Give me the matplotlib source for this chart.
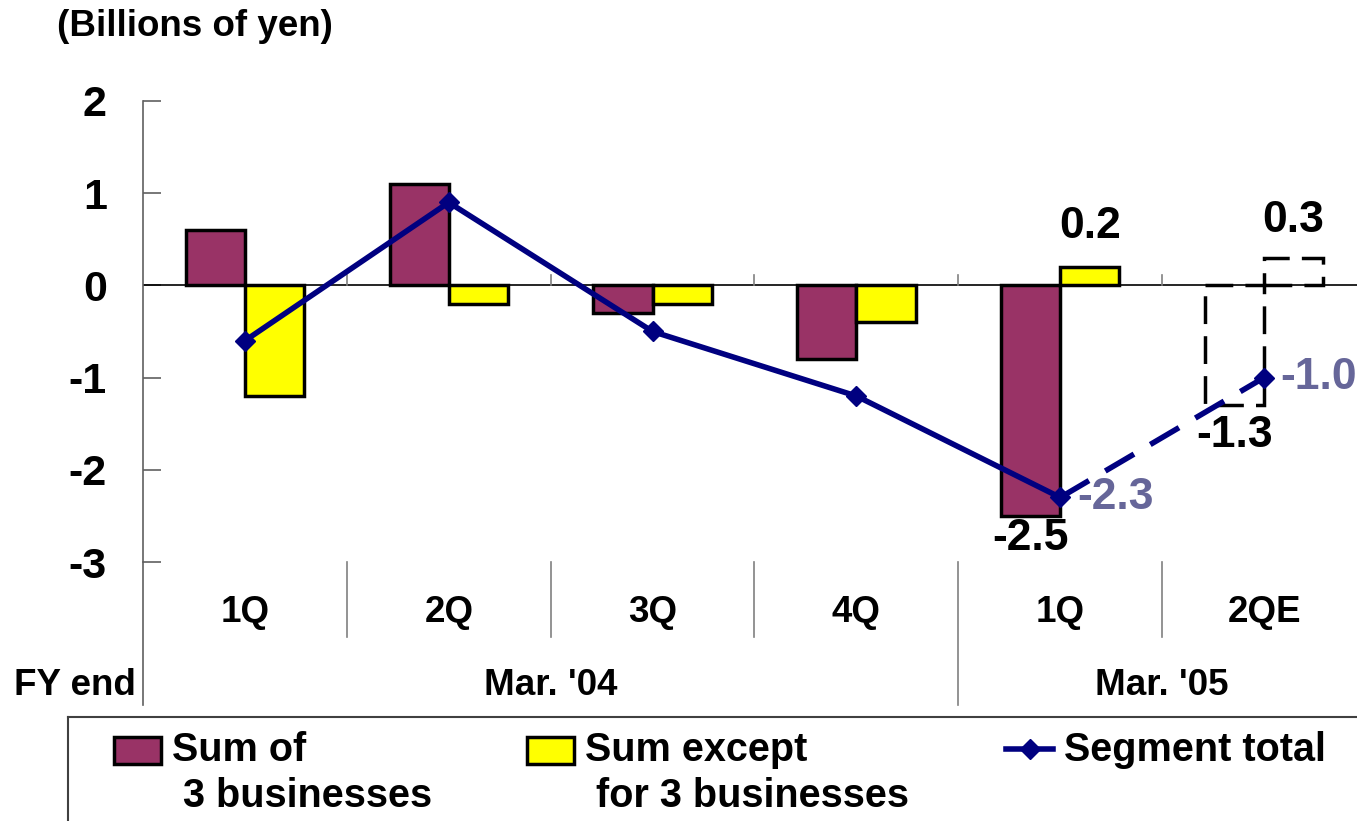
import matplotlib
matplotlib.use("Agg")
import matplotlib.pyplot as plt
from matplotlib.lines import Line2D
from matplotlib.patches import Rectangle
import matplotlib.transforms as mtransforms
import numpy as np

# ---- data ----
quarters = ["1Q", "2Q", "3Q", "4Q", "1Q", "2QE"]
fy_labels = ["Mar. '04", "Mar. '05"]
fy_spans = [(0, 3), (4, 5)]           # index range of quarters in each FY
sum3 = [0.6, 1.1, -0.3, -0.8, -2.5, -1.3]
except3 = [-1.2, -0.2, -0.2, -0.4, 0.2, 0.3]
total = [-0.6, 0.9, -0.5, -1.2, -2.3, -1.0]
n_actual = 5                           # last entry is an estimate
series_names = ["Sum of", "3 businesses", "Sum except", "for 3 businesses", "Segment total"]
yticks = [2, 1, 0, -1, -2, -3]

MAROON = "#993366"
YELLOW = "#FFFF00"
NAVY = "#000080"
LBLUE = "#666699"
FONT = "Liberation Sans"

plt.rcParams["font.family"] = [FONT, "DejaVu Sans"]
plt.rcParams["font.weight"] = "bold"

W, H = 1357, 821
fig = plt.figure(figsize=(W / 100, H / 100), dpi=100)

def fx(px):
    return px / W

def fy(py):
    return (H - py) / H

ax = fig.add_axes([fx(143), fy(562), fx(1366) - fx(143), fy(101) - fy(562)])
ax.set_xlim(-0.5, len(quarters) - 0.5)
ax.set_ylim(-3, 2)

x = np.arange(len(quarters))
bw = 0.29
s3 = np.array(sum3)
e3 = np.array(except3)
tt = np.array(total)

# actual bars
ax.bar(x[:n_actual] - bw / 2, s3[:n_actual], bw, color=MAROON, edgecolor="black", linewidth=2.5, zorder=3)
ax.bar(x[:n_actual] + bw / 2, e3[:n_actual], bw, color=YELLOW, edgecolor="black", linewidth=2.5, zorder=3)
# estimated bars (dashed, hollow)
dash_bar = (0, (8, 3.5))
ax.bar(x[n_actual:] - bw / 2, s3[n_actual:], bw, fill=False, edgecolor="black", linewidth=2.5,
       linestyle=dash_bar, zorder=3)
ax.bar(x[n_actual:] + bw / 2, e3[n_actual:], bw, fill=False, edgecolor="black", linewidth=2.5,
       linestyle=dash_bar, zorder=3)

# segment total line
ax.plot(x[:n_actual], tt[:n_actual], color=NAVY, lw=4, marker="D", ms=10, zorder=5)
ax.plot(x[n_actual - 1:], tt[n_actual - 1:], color=NAVY, lw=4, linestyle=(0, (6, 3.4)), zorder=5)
ax.plot(x[n_actual:], tt[n_actual:], color=NAVY, lw=0, marker="D", ms=10, zorder=6)

# zero line and small boundary ticks
ax.axhline(0, color="black", lw=1.2, zorder=2)
for b in np.arange(0.5, len(quarters) - 0.5, 1.0):
    ax.plot([b, b], [0, 0.11], color="#808080", lw=1.2, zorder=2)

# spines / ticks
for s in ["top", "right", "bottom"]:
    ax.spines[s].set_visible(False)
ax.spines["left"].set_color("#606060")
ax.spines["left"].set_linewidth(1.2)
ax.set_yticks(yticks)
ax.set_yticklabels([str(v) for v in yticks])
ax.tick_params(axis="y", direction="in", length=13, width=1.2, color="#606060",
               pad=26, labelsize=31)
for lab in ax.get_yticklabels():
    lab.set_fontweight("bold")
ax.set_xticks([])

# data labels
LBL = 32
ax.annotate(f"{except3[4]:.1f}", (x[4] + bw / 2, e3[4]), xytext=(0, 29), textcoords="offset points",
            ha="center", va="center", fontsize=LBL, fontweight="bold")
ax.annotate(f"{except3[5]:.1f}", (x[5] + bw / 2, e3[5]), xytext=(0, 27), textcoords="offset points",
            ha="center", va="center", fontsize=LBL, fontweight="bold")
ax.annotate(f"{sum3[4]:.1f}", (x[4] - bw / 2, s3[4]), xytext=(0, -16), textcoords="offset points",
            ha="center", va="center", fontsize=LBL, fontweight="bold")
ax.annotate(f"{sum3[5]:.1f}", (x[5] - bw / 2, s3[5]), xytext=(0, -22), textcoords="offset points",
            ha="center", va="center", fontsize=LBL, fontweight="bold")
ax.annotate(f"{total[4]:.1f}", (x[4], tt[4]), xytext=(12, 0), textcoords="offset points",
            ha="left", va="center", fontsize=LBL, fontweight="bold", color=LBLUE)
ax.annotate(f"{total[5]:.1f}", (x[5], tt[5]), xytext=(12, 0), textcoords="offset points",
            ha="left", va="center", fontsize=LBL, fontweight="bold", color=LBLUE)

# title
fig.text(fx(57), fy(27), "(Billions of yen)", ha="left", va="center", fontsize=26.5, fontweight="bold")

# category area below the axes
tr = mtransforms.blended_transform_factory(ax.transData, fig.transFigure)
for b in np.arange(0.5, len(quarters) - 0.5, 1.0):
    long = any(abs(b - (sp[0] - 0.5)) < 1e-9 for sp in fy_spans)
    y_end = fy(705) if long else fy(637)
    ax.add_line(Line2D([b, b], [fy(562), y_end], transform=tr, color="#808080", lw=1.2, clip_on=False))
ax.add_line(Line2D([-0.5, -0.5], [fy(562), fy(705)], transform=tr, color="#606060", lw=1.2, clip_on=False))

CAT = 26.5
for i, q in enumerate(quarters):
    ax.text(x[i], fy(612), q, transform=tr, ha="center", va="center", fontsize=CAT, fontweight="bold")
for (a, b), lab in zip(fy_spans, fy_labels):
    ax.text((a + b) / 2, fy(685), lab, transform=tr, ha="center", va="center", fontsize=CAT, fontweight="bold")
fig.text(fx(75), fy(685), "FY end", ha="center", va="center", fontsize=CAT, fontweight="bold")

# legend box
fig.add_artist(Line2D([fx(68), 1.0], [fy(717), fy(717)], color="#404040", lw=1.5))
fig.add_artist(Line2D([fx(68), fx(68)], [fy(717), 0.0], color="#404040", lw=1.5))

LEG = 28.5
fig.add_artist(Rectangle((fx(114), fy(764)), fx(161) - fx(114), fy(737) - fy(764),
                         facecolor=MAROON, edgecolor="black", lw=2.5))
fig.text(fx(172), fy(750), series_names[0], ha="left", va="center", fontsize=LEG, fontweight="bold")
fig.text(fx(183), fy(796), series_names[1], ha="left", va="center", fontsize=LEG, fontweight="bold")

fig.add_artist(Rectangle((fx(527), fy(764)), fx(574) - fx(527), fy(737) - fy(764),
                         facecolor=YELLOW, edgecolor="black", lw=2.5))
fig.text(fx(585), fy(750), series_names[2], ha="left", va="center", fontsize=LEG, fontweight="bold")
fig.text(fx(596), fy(796), series_names[3], ha="left", va="center", fontsize=LEG, fontweight="bold")

fig.add_artist(Line2D([fx(1006), fx(1053)], [fy(749), fy(749)], color=NAVY, lw=4))
fig.add_artist(Line2D([fx(1029.5)], [fy(749)], color=NAVY, marker="D", ms=10, lw=0))
fig.text(fx(1064), fy(750), series_names[4], ha="left", va="center", fontsize=LEG, fontweight="bold")

fig.savefig("out.png", dpi=100)
